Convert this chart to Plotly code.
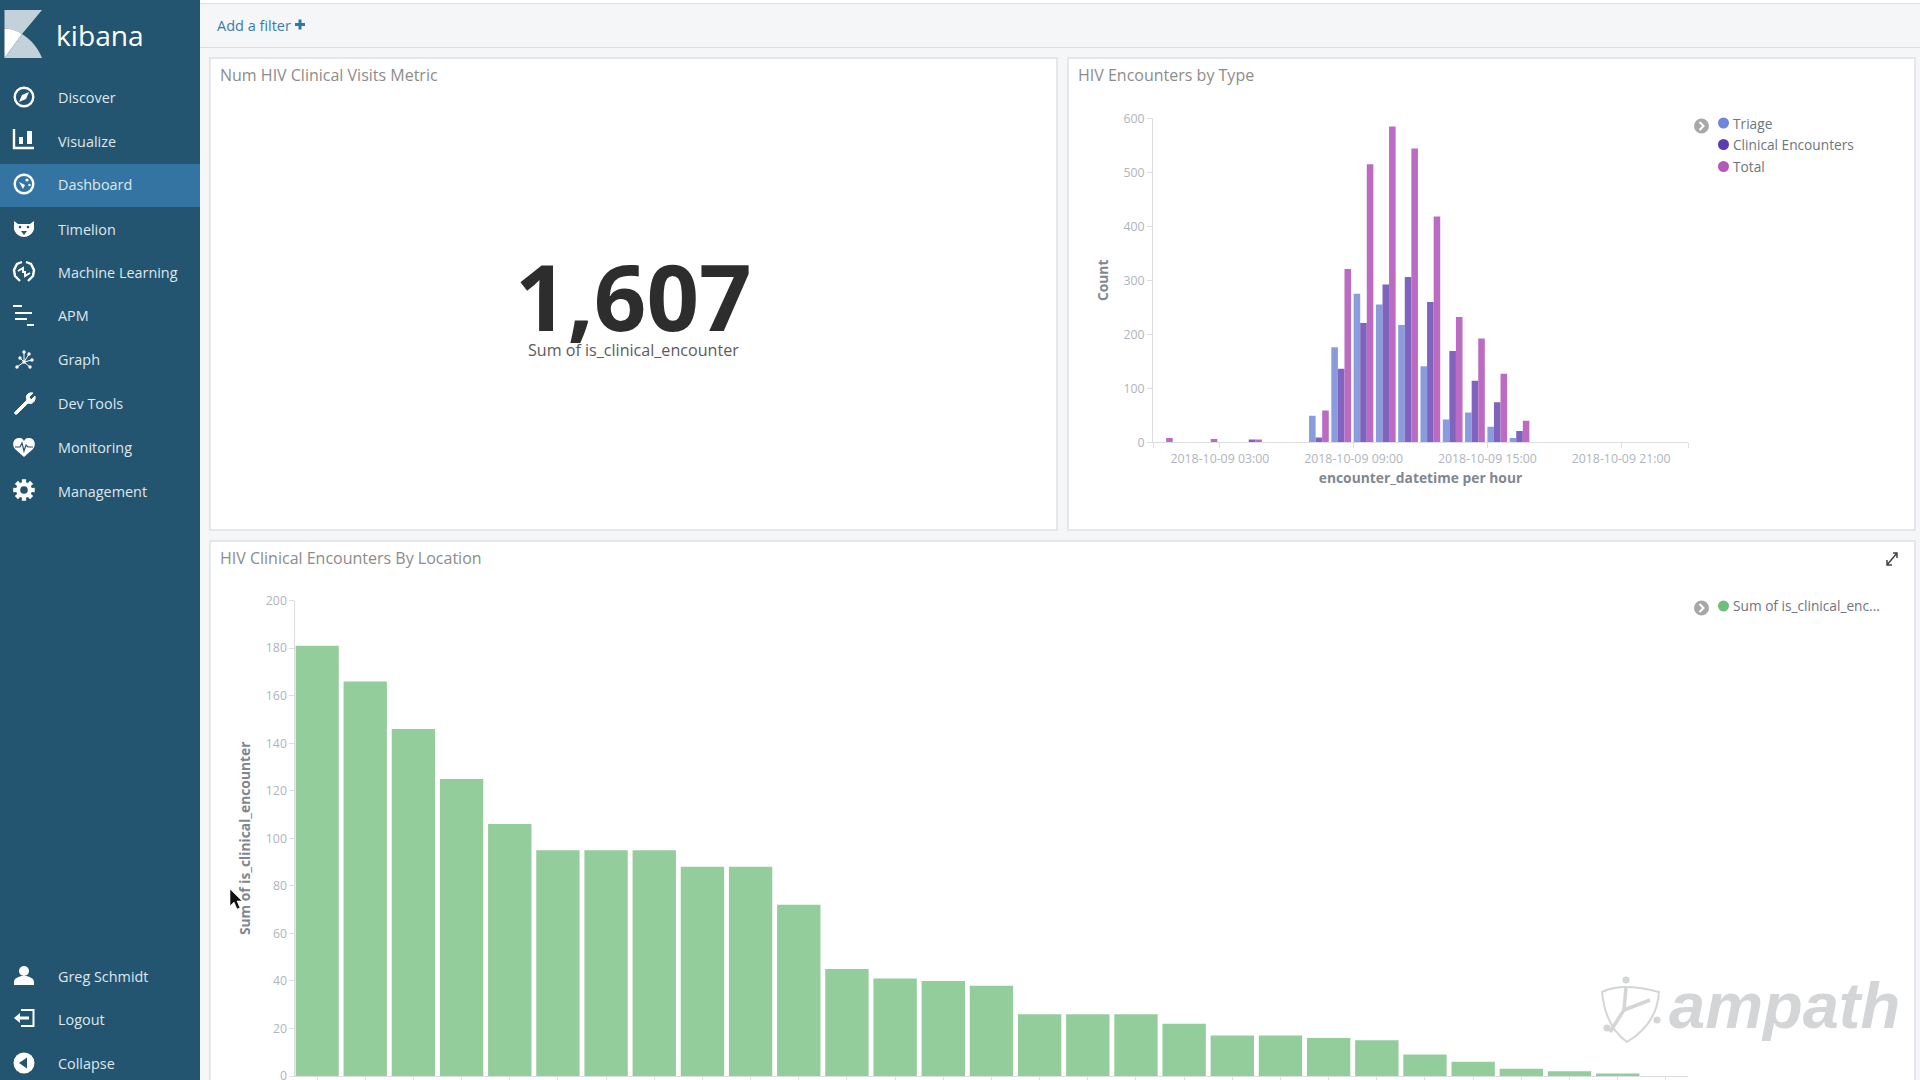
import re, math
import plotly.graph_objects as go

# ---- data ----
hours = ["2018-10-09 %02d:00" % h for h in [0, 2, 4, 7, 8, 9, 10, 11, 12, 13, 14, 15, 16]]
triage = [0, 0, 0, 49, 176, 275, 255, 217, 141, 42, 55, 29, 8]
clinical = [0, 0, 5, 9, 136, 221, 292, 306, 260, 169, 114, 74, 21]
total = [8, 6, 5, 59, 321, 515, 585, 544, 418, 232, 192, 127, 40]
type_names = ["Triage", "Clinical Encounters", "Total"]
time_ticks = ["2018-10-09 00:00", "2018-10-09 03:00", "2018-10-09 09:00", "2018-10-09 15:00", "2018-10-09 21:00", "2018-10-10 00:00"]
time_labels = ["", "2018-10-09 03:00", "2018-10-09 09:00", "2018-10-09 15:00", "2018-10-09 21:00", ""]
locations = list(range(29))
location_values = [181, 166, 146, 125, 106, 95, 95, 95, 88, 88, 72, 45, 41, 40, 38, 26, 26, 26, 22, 17, 17, 16, 15, 9, 6, 3, 2, 1, 0]
metric_value = "1,607"
metric_label = "Sum of is_clinical_encounter"
nav_top = ["Discover", "Visualize", "Dashboard", "Timelion", "Machine Learning", "APM", "Graph", "Dev Tools", "Monitoring", "Management"]
nav_bottom = ["Greg Schmidt", "Logout", "Collapse"]

W, H = 1920, 1080
SIDE = "#235470"
ACTIVE = "#3374a2"
FONT = "Open Sans"
fx = lambda x: x / W
fy = lambda y: 1 - y / H
shapes, ann = [], []


def rect(x0, y0, x1, y1, fill, line=None, lw=1, layer="below"):
    shapes.append(dict(type="rect", xref="paper", yref="paper", x0=fx(x0), x1=fx(x1), y0=fy(y0), y1=fy(y1),
                       fillcolor=fill, line=dict(color=line or "rgba(0,0,0,0)", width=lw if line else 0), layer=layer))


def circ(cx, cy, r, fill=None, line=None, lw=1, layer="above"):
    shapes.append(dict(type="circle", xref="paper", yref="paper", x0=fx(cx - r), x1=fx(cx + r), y0=fy(cy + r), y1=fy(cy - r),
                       fillcolor=fill or "rgba(0,0,0,0)", line=dict(color=line or "rgba(0,0,0,0)", width=lw if line else 0), layer=layer))


def path(d, fill=None, line=None, lw=1, ox=0, oy=0, layer="above"):
    def sub(m):
        return "%.5f,%.5f" % (fx(float(m.group(1)) + ox), fy(float(m.group(2)) + oy))
    s = re.sub(r"(-?[\d.]+),(-?[\d.]+)", sub, d)
    shapes.append(dict(type="path", xref="paper", yref="paper", path=s, fillcolor=fill or "rgba(0,0,0,0)",
                       line=dict(color=line or "rgba(0,0,0,0)", width=lw if line else 0), layer=layer))


def text(x, y, t, size, color, anchor="left", bold=False, family=FONT, vanchor="middle"):
    ann.append(dict(x=fx(x), y=fy(y), xref="paper", yref="paper", text="<b>%s</b>" % t if bold else t, showarrow=False,
                    xanchor=anchor, yanchor=vanchor, align=anchor, borderpad=0, font=dict(family=family, size=size, color=color)))


# ---- page furniture ----
rect(0, 0, W, H, "#f5f6f8")
rect(200, 0, W, 3, "#ffffff")
rect(200, 3, W, 4, "#dcdee2")
rect(200, 47, W, 48, "#dcdee2")
text(216, 25.5, "Add a filter", 14.5, "#3a7ca8")
path("M295,23.5 L298.5,23.5 L298.5,20 L301.5,20 L301.5,23.5 L305,23.5 L305,26.5 L301.5,26.5 L301.5,30 L298.5,30 L298.5,26.5 L295,26.5 Z", fill="#2f78a5", oy=-0.5)

for (x0, y0, x1, y1) in [(210, 58, 1057, 530), (1068, 58, 1915, 530), (210, 541, 1915, 1090)]:
    rect(x0, y0, x1, y1, "#ffffff", "#dfe1e5", 1.5)

rect(0, 0, 200, H, SIDE)
rect(0, 164, 200, 207, ACTIVE)

# kibana logo
path("M4.5,10 L42,10 L22,34 C16,30 10,28.5 4.5,28.5 Z", fill="#c3d1da")
path("M4.5,28.5 C10,28.5 16,30 22,34 L4.5,58 Z", fill="#ffffff")
path("M4.5,58 L22,34 C32,40 39,50 42,58 Z", fill="#c3d1da")
text(54.5, 34.5, "kibana", 28.2, "#ffffff")

# sidebar items
ys_top = [97.5, 141.5, 185, 229, 272.5, 316, 360, 403, 447.5, 491]
ys_bot = [976, 1019, 1063]
for t, y in zip(nav_top + nav_bottom, ys_top + ys_bot):
    text(56.7, y, t, 14.4, "#dfe8ee")

IC = "#ffffff"
X = 24
# discover
circ(X, 97, 9.3, line=IC, lw=2.4)
path("M29,92 L26,99 L19,102 L22,95 Z", fill=IC)
# visualize
path("M14,129 L14,148 L34,148", line=IC, lw=2.4)
rect(19, 137, 23, 144, IC, layer="above")
rect(27, 131, 32, 144, IC, layer="above")
# dashboard
circ(X, 184, 9.3, line=IC, lw=2.4)
path("M19,182 L25,185 L23,189 Z", fill=IC)
circ(27, 180, 1.6, fill=IC)
circ(29.5, 185, 1.2, fill=IC)
# timelion
path("M14,221 L18,224 L30,224 L34,221 L34,229 C33,234 28,237 24,237 C20,237 15,234 14,229 Z", fill=IC)
path("M21,231 L27,231 L24,235 Z", fill=SIDE)
circ(20, 227, 1.3, fill=SIDE)
circ(28, 227, 1.3, fill=SIDE)
# machine learning
path("M22,262 L17,264 L14,270 L15,276 L20,281", line=IC, lw=2.4)
path("M26,262 L31,264 L34,270 L33,276 L28,281", line=IC, lw=2.4)
path("M18,271 L23,268 L23,273 M30,273 L25,276 L25,271", line=IC, lw=2)
# apm
for (a, b, yy) in [(13, 22, 306), (15, 32, 313), (15, 27, 319), (27, 34, 325)]:
    rect(a, yy - 1, b, yy + 1, IC, layer="above")
# graph
path("M24,352 L24,362 L17,367 M24,362 L32,360 M24,362 L30,367 M20,358 L24,362 M29,354 L24,362", line=IC, lw=1)
for (cx, cy) in [(24, 352), (29, 354), (20, 358), (32, 360), (17, 367), (30, 367), (24, 362)]:
    circ(cx, cy, 1.7, fill=IC)
# dev tools
path("M15,412 L27,400 C25,396 28,392 33,393 L29,397 L31,400 L35,396 C36,401 32,405 28,403 L17,414 C15,415 14,413 15,412 Z", fill=IC, line=IC, lw=1)
# monitoring
path("M24,457 L15,449 C11,444 14,437 20,438 C22,438 23,439 24,441 C25,439 26,438 28,438 C34,437 37,444 33,449 Z", fill=IC)
path("M15,447 L20,447 L22,443 L24,451 L26,445 L28,447 L33,447", line=SIDE, lw=1.2)
# management
gear = []
for i in range(8):
    a = i * math.pi / 4
    for da, r in [(-0.26, 8), (-0.2, 11), (0.2, 11), (0.26, 8)]:
        gear.append((24 + r * math.cos(a + da), 490 + r * math.sin(a + da)))
path("M" + " L".join("%.2f,%.2f" % p for p in gear) + " Z", fill=IC)
circ(24, 490, 3.8, fill=SIDE)
# user
circ(24, 971, 5, fill=IC)
path("M14,985 L14,982 C14,978 19,977 21,976 L27,976 C29,977 34,978 34,982 L34,985 Z", fill=IC)
# logout
path("M21,1010 L33.5,1010 L33.5,1026 L21,1026", line=IC, lw=2)
path("M14,1018 L20,1013 L20,1016.5 L29,1016.5 L29,1019.5 L20,1019.5 L20,1023 Z", fill=IC)
# collapse
circ(24, 1063, 10.5, fill=IC)
path("M19,1063 L27,1057.5 L27,1068.5 Z", fill=SIDE)

# panel titles
text(218.5, 75, "Num HIV Clinical Visits Metric", 16, "#8c8c8c")
text(1076.5, 75, "HIV Encounters by Type", 16, "#8c8c8c")
text(218.5, 558, "HIV Clinical Encounters By Location", 16, "#8c8c8c")

# metric
text(633, 295, metric_value, 92, "#2d2d2d", anchor="center", bold=True)
text(633, 350, metric_label, 16.1, "#5b5b5b", anchor="center")

# legends
LEG = "#6e7480"
for y, name, c in zip([123, 144.5, 166.5], type_names, ["#6f87d8", "#5a3cae", "#b05abb"]):
    circ(1723.5, y, 5.5, fill=c)
    text(1732, y, name, 13.7, LEG)
circ(1723.5, 606, 5.5, fill="#6dbf7b")
text(1732, 605.5, "Sum of is_clinical_enc...", 13.7, LEG)
for cy in [126, 608]:
    circ(1701.5, cy, 7.5, fill="#a8a8a8")
    path("M1699.5,%.1f L1703.5,%.1f L1699.5,%.1f" % (cy - 4, cy, cy + 4), line="#ffffff", lw=2)
# expand icon
path("M1887,565 L1897,553 M1893,553 L1897,553 L1897,558 M1887,560 L1887,565 L1892,565", line="#444444", lw=1.5)

# cursor
path("M230,889 L230,906 L234,902 L237,909 L240,908 L237,901 L242,901 Z", fill="#111111", line="#ffffff", lw=0.6)

# ampath watermark
LOGO = "#d3d5d7"
circ(1626, 980, 3.6, fill=LOGO)
circ(1607, 1028, 3.6, fill=LOGO)
circ(1657, 1020, 3.6, fill=LOGO)
path("M1602,992 C1610,988 1620,987 1626,987 C1634,987 1644,988 1659,992 C1658,1010 1650,1028 1627,1042 C1610,1030 1604,1012 1602,992 Z", line=LOGO, lw=2)
path("M1626,987 L1624,1010 L1610,1032 M1624,1010 L1650,1000", line=LOGO, lw=3.5)
ann.append(dict(x=fx(1668), y=fy(1043), xref="paper", yref="paper", text="<b><i>ampath</i></b>", showarrow=False,
                xanchor="left", yanchor="bottom", borderpad=0, font=dict(family="Liberation Sans", size=65, color=LOGO)))

# ---- charts ----
fig = go.Figure()
HOUR_MS = 3600000
bw = 0.295 * HOUR_MS
for i, (name, vals, col) in enumerate(zip(type_names, [triage, clinical, total], ["#8b9cdd", "#7f63bf", "#bb6cc2"])):
    fig.add_trace(go.Bar(x=hours, y=vals, name=name, marker=dict(color=col, line=dict(width=0)), width=bw, offset=i * bw,
                         xaxis="x", yaxis="y", showlegend=False))
fig.add_trace(go.Bar(x=locations, y=location_values, name="Sum of is_clinical_encounter",
                     marker=dict(color="#93cd9b", line=dict(width=0)), width=0.9, xaxis="x2", yaxis="y2", showlegend=False))

TICK = dict(family=FONT, size=12.3, color="#b0b4bc")
AXT = dict(family=FONT, size=13.8, color="#808790")
AXC = "#dcdee2"
common = dict(showgrid=False, zeroline=False, showline=True, linecolor=AXC, linewidth=1, ticks="outside", tickcolor=AXC,
              ticklen=5, tickfont=TICK, automargin=False)
fig.update_layout(
    template="none",
    width=W, height=H, margin=dict(l=0, r=0, t=0, b=0, pad=0), autosize=False, barmode="overlay",
    paper_bgcolor="#f5f6f8", plot_bgcolor="rgba(0,0,0,0)", shapes=shapes, annotations=ann, showlegend=False,
    xaxis=dict(common, type="date", domain=[fx(1153), fx(1688)], range=["2018-10-09 00:00", "2018-10-10 00:00"],
               tickmode="array", tickvals=time_ticks, ticktext=time_labels, anchor="y",
               title=dict(text="<b>encounter_datetime per hour</b>", font=AXT, standoff=7)),
    yaxis=dict(common, domain=[fy(442.3), fy(118.3)], range=[0, 600], tickvals=[0, 100, 200, 300, 400, 500, 600], anchor="x",
               title=dict(text="<b>Count</b>", font=AXT, standoff=11.5)),
    xaxis2=dict(common, domain=[fx(295.4), fx(1688)], range=[-0.45, 28.46], tickmode="array", tickvals=locations,
                showticklabels=False, anchor="y2"),
    yaxis2=dict(common, domain=[fy(1076), fy(600.6)], range=[0, 200], tickvals=list(range(0, 201, 20)), anchor="x2",
                ticklabeloverflow="allow",
                title=dict(text="<b>Sum of is_clinical_encounter</b>", font=AXT, standoff=11.5)),
)
fig.write_html("out.html", config=dict(displayModeBar=False),
               post_script="document.body.style.margin='0';document.body.style.overflow='hidden';")
